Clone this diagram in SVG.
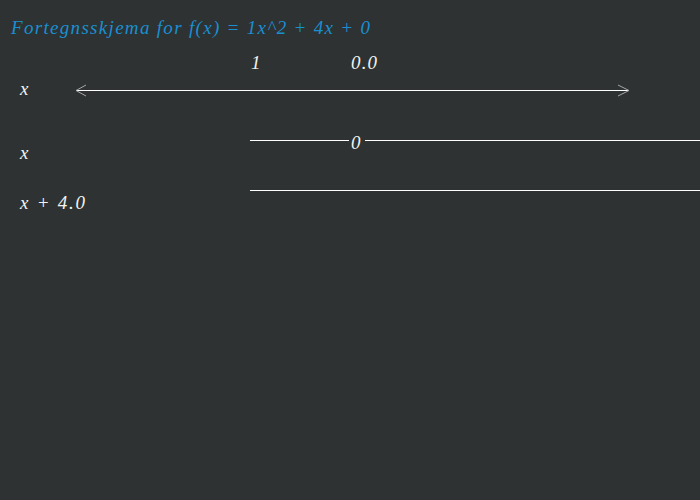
<svg xmlns="http://www.w3.org/2000/svg" width="700" height="500" viewBox="0 0 700 500">
<style>
.t{font-family:"Liberation Serif","DejaVu Serif",serif;font-style:italic;font-size:19px;fill:#f2f2f2}
.title{fill:#1a8fd0}
.ln{stroke:#ffffff;stroke-width:1.2;fill:none}
.ah{stroke:#a8a8a8;stroke-width:1;fill:none}
</style>
<rect width="700" height="500" fill="#2e3233"/>
<text class="t title" x="11" y="34" textLength="359" lengthAdjust="spacing">Fortegnsskjema for f(x) = 1x^2 + 4x + 0</text>
<g id="axis">
<text class="t" x="20" y="95">x</text>
<text class="t" x="251" y="69">1</text>
<text class="t" x="351" y="69" textLength="26" lengthAdjust="spacing">0.0</text>
</g>
<g id="row1">
<text class="t" x="20" y="159">x</text>
<text class="t" x="351" y="149">0</text>
</g>
<g id="row2">
<text class="t" x="20" y="209" textLength="65" lengthAdjust="spacing">x + 4.0</text>
</g>
<g id="connectors">
<line class="ln" x1="76" y1="90.5" x2="629" y2="90.5"/>
<polyline class="ah" points="86,85 76,90.5 86,96"/>
<polyline class="ah" points="618,85 629,90.5 618,96"/>
<line class="ln" x1="250" y1="140.5" x2="349" y2="140.5"/>
<line class="ln" x1="365" y1="140.5" x2="700" y2="140.5"/>
<line class="ln" x1="250" y1="190.5" x2="700" y2="190.5"/>
</g>
</svg>
